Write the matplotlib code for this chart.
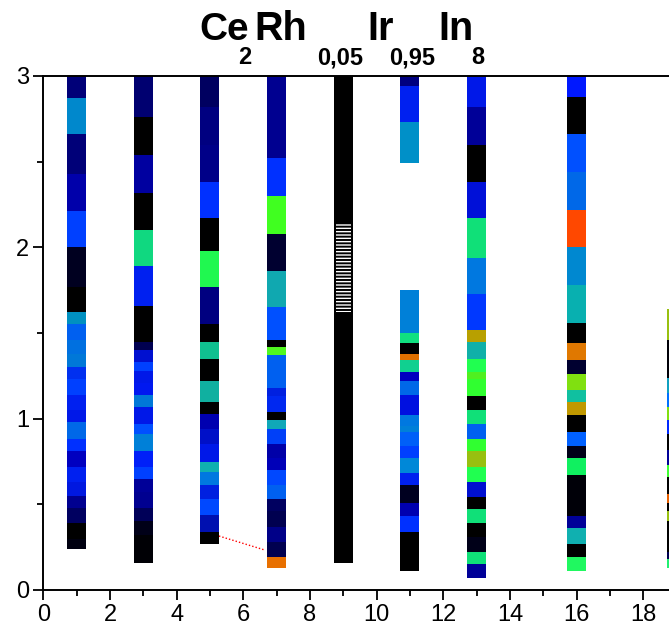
import matplotlib
matplotlib.use('Agg')
import matplotlib.pyplot as plt
import matplotlib.patches as mpatches
from matplotlib.ticker import MultipleLocator

plt.rcParams['font.family'] = ['Liberation Sans', 'DejaVu Sans']
plt.rcParams['hatch.linewidth'] = 1.0

K = '#000000'

# ── column data: boundaries top -> bottom, one colour per segment (None = gap) ──
col_x = [1, 3, 5, 7, 9, 11, 13, 16, 19]

col1_y = [3.0, 2.87, 2.66, 2.43, 2.21, 2.00, 1.77, 1.62, 1.55, 1.46, 1.38, 1.30, 1.23,
          1.14, 1.05, 0.98, 0.88, 0.81, 0.72, 0.63, 0.55, 0.48, 0.39, 0.30, 0.24]
col1_c = ['#000078', '#0088cc', '#000078', '#0000aa', '#0040ff', '#000020', K, '#0090c0',
          '#0060f0', '#0070e0', '#0078d8', '#0030f0', '#0040ff', '#0020f0', '#0018e8',
          '#0068e8', '#0030ff', '#0000c0', '#0020f0', '#0018e0', '#000090', '#000060',
          K, '#000010']

col3_y = [3.0, 2.76, 2.54, 2.32, 2.10, 1.89, 1.66, 1.45, 1.40, 1.33, 1.28, 1.21, 1.14,
          1.07, 0.97, 0.91, 0.81, 0.72, 0.65, 0.57, 0.48, 0.40, 0.32, 0.16]
col3_c = ['#000070', K, '#0000a0', K, '#10d880', '#0020f0', K, '#000050', '#0010d0',
          '#0040ff', '#0018e8', '#0018f0', '#0078d8', '#0018e8', '#0050ff', '#0080d8',
          '#0020f8', '#0040ff', '#000098', '#000090', '#000058', '#000018', '#000005']

col5_y = [3.0, 2.82, 2.60, 2.38, 2.17, 1.98, 1.77, 1.55, 1.45, 1.35, 1.22, 1.10, 1.03,
          0.94, 0.85, 0.75, 0.69, 0.61, 0.53, 0.44, 0.34, 0.27]
col5_c = ['#000060', '#000080', '#000088', '#0030ff', K, '#20f850', '#000080', K,
          '#10c090', K, '#10b0a0', K, '#0000b0', '#0010c8', '#0018e8', '#10b0b0',
          '#0078e0', '#0020e0', '#0048ff', '#0010b0', K]

col7_y = [3.0, 2.52, 2.30, 2.08, 1.86, 1.65, 1.46, 1.42, 1.37, 1.18, 1.13, 1.04, 0.99,
          0.94, 0.85, 0.77, 0.70, 0.61, 0.53, 0.46, 0.37, 0.28, 0.19, 0.13]
col7_c = ['#000090', '#0030ff', '#40ff20', '#000030', '#10a8b0', '#0050ff', K, '#50f820',
          '#0060f0', '#0020e0', '#0028f0', K, '#10a8b8', '#0040f8', '#0000a8', '#0000b8',
          '#0048ff', '#0060f0', '#000060', '#000050', '#000088', '#000050', '#e87000']

col9_y = [3.0, 0.16]
col9_c = [K]
col9_hatch = [1.62, 2.14]

col11_y = [3.0, 2.94, 2.73, 2.49, 1.75, 1.50, 1.44, 1.38, 1.34, 1.27, 1.22, 1.14, 1.02,
           0.96, 0.92, 0.84, 0.77, 0.68, 0.61, 0.51, 0.43, 0.34, 0.11]
col11_c = ['#000080', '#0020f0', '#0090c8', None, '#0080d8', '#10e080', K, '#e07000',
           '#10d090', '#0000c0', '#0068e8', '#0010e0', '#0078e0', '#0080d8', '#0060f8',
           '#0040ff', '#0088d8', '#0020f0', '#000020', '#0000b0', '#0030ff', K]

col13_y = [3.0, 2.82, 2.60, 2.38, 2.17, 1.94, 1.73, 1.52, 1.45, 1.35, 1.27, 1.23, 1.13,
           1.05, 0.97, 0.88, 0.81, 0.72, 0.63, 0.54, 0.47, 0.39, 0.31, 0.22, 0.15, 0.07]
col13_c = ['#0018e8', '#000098', K, '#0010d8', '#10e078', '#0078e0', '#0038ff', '#b8a000',
           '#10b0a8', '#20ff50', '#50f020', '#30ff30', K, '#10e078', '#0060f0', '#30ff30',
           '#98c010', '#20ff50', '#0010d0', K, '#10e078', K, '#000018', '#10e078', '#000098']

col16_y = [3.0, 2.88, 2.66, 2.44, 2.22, 2.00, 1.78, 1.56, 1.44, 1.34, 1.26, 1.17, 1.10,
           1.02, 0.92, 0.84, 0.77, 0.67, 0.43, 0.36, 0.27, 0.19, 0.11]
col16_c = ['#0018ff', K, '#0050ff', '#0068e8', '#ff4800', '#0088d0', '#08b0b0', K,
           '#e07800', '#000030', '#80e010', '#10c0a0', '#c09800', K, '#0060ff', '#000018',
           '#10f060', '#000008', '#000098', '#10b0b0', K, '#20f860']

col19_y = [1.64, 1.46, 1.24, 1.15, 1.07, 0.99, 0.91, 0.82, 0.73, 0.66, 0.56, 0.51, 0.46,
           0.40, 0.22, 0.18, 0.13]
col19_c = ['#98c010', '#000008', '#10a0c0', '#0070ff', '#80e010', '#0028ff', K, '#000098',
           '#40ff30', K, '#e86000', K, '#98c010', K, '#000050', '#20f070']

col_y = [col1_y, col3_y, col5_y, col7_y, col9_y, col11_y, col13_y, col16_y, col19_y]
col_c = [col1_c, col3_c, col5_c, col7_c, col9_c, col11_c, col13_c, col16_c, col19_c]

# red dotted link between column 5 and column 7
link_x = [5.27, 6.65]
link_y = [0.315, 0.233]

# ── figure ────────────────────────────────────────────────────────────────────
W, H = 669, 634
fig = plt.figure(figsize=(W / 100, H / 100), dpi=100)
ax = fig.add_axes([43.3 / W, (H - 590) / H, (W - 43.3) / W, (590 - 76) / H])

BAR_W = 0.57
for x, ys, cs in zip(col_x, col_y, col_c):
    for top, bot, c in zip(ys[:-1], ys[1:], cs):
        if c is None:
            continue
        ax.bar(x, top - bot, bottom=bot, width=BAR_W, color=c, linewidth=0, zorder=2)

ax.add_patch(mpatches.Rectangle((col_x[4] - 0.225, col9_hatch[0]), 0.45,
                                col9_hatch[1] - col9_hatch[0], facecolor=K,
                                edgecolor='white', hatch='-----', linewidth=0, zorder=3))

ax.plot(link_x, link_y, color='red', ls=(0, (1, 1.5)), lw=1.0, zorder=1)

ax.set_xlim(0, 18.77)
ax.set_ylim(0, 3)
ax.xaxis.set_major_locator(MultipleLocator(2))
ax.xaxis.set_minor_locator(MultipleLocator(1))
ax.yaxis.set_major_locator(MultipleLocator(1))
ax.yaxis.set_minor_locator(MultipleLocator(0.5))
ax.tick_params(which='major', direction='out', length=7, width=1.3, labelsize=17, pad=3)
ax.tick_params(which='minor', direction='out', length=4, width=1.3)
ax.spines['right'].set_visible(False)
for s in ('left', 'bottom', 'top'):
    ax.spines[s].set_linewidth(1.4)

# title with manually placed subscripts
title_parts = [('Ce', 199, 40, 28), ('2', 238, 64, 17), ('Rh', 254, 40, 28.5),
               ('0,05', 317, 64, 17), ('Ir', 367, 40, 28.5), ('0,95', 389, 64, 17),
               ('In', 438, 40, 28.5), ('8', 471, 64, 17)]
for txt, px, py, fs in title_parts:
    fig.text(px / W, 1 - py / H, txt, fontsize=fs, fontweight='bold',
             ha='left', va='baseline')

fig.savefig('out.png', dpi=100, facecolor='white')
